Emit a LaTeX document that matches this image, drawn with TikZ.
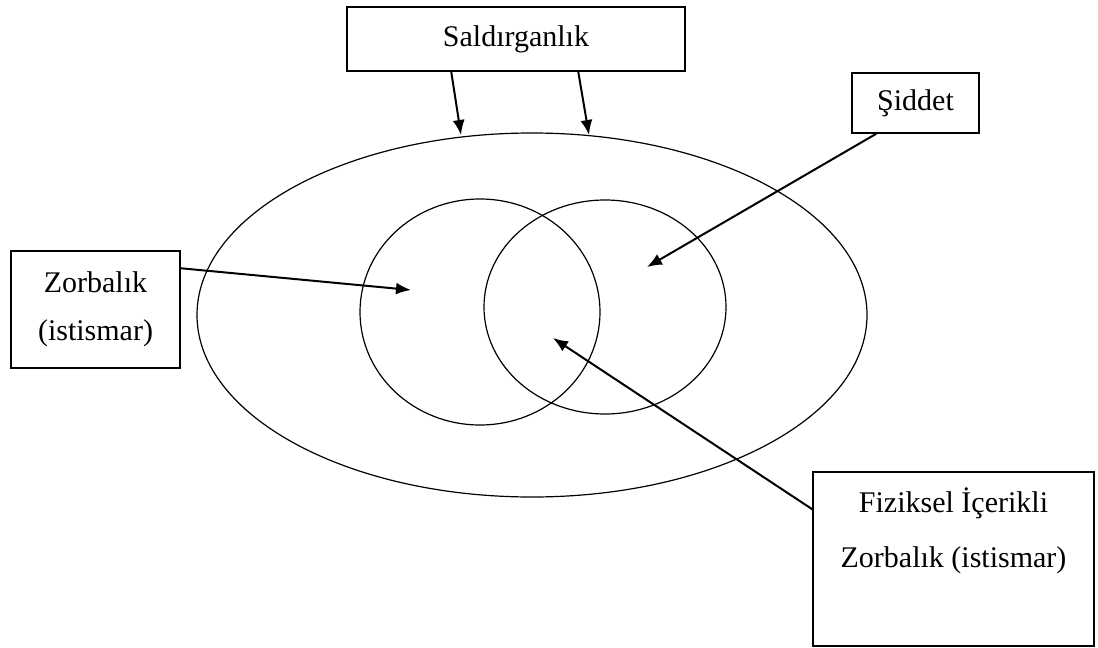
\documentclass[tikz,border=0pt]{standalone}
\usepackage{fontspec}
\setmainfont{Liberation Serif}
\usetikzlibrary{arrows.meta,positioning}
\begin{document}
\begin{tikzpicture}[x=0.5pt,y=-0.5pt]
		\tikzset{kutu/.style = {shape=rectangle,draw,line width=0.75pt,inner sep=0pt,font=\fontsize{15}{24}\selectfont}}
		\tikzset{ok/.style = {-{Latex[length=7.5pt,width=6pt]},line width=1pt}}
		\tikzset{kume/.style = {line width=0.6pt}}
		\useasboundingbox (0,0) rectangle (1098,648);
		% kumeler
		\draw[kume] (532,315) ellipse [x radius=167.5pt, y radius=91pt];
		\draw[kume] (480,312) ellipse [x radius=60pt, y radius=56.5pt];
		\draw[kume] (605,307) ellipse [x radius=60.5pt, y radius=53.5pt];
		% kutular
		\node[kutu, minimum width=169pt, minimum height=32pt] (saldirganlik) at (516,39) {Saldırganlık};
		\node[kutu, minimum width=63.5pt, minimum height=30pt] (siddet) at (915.5,103) {Şiddet};
		\node[kutu, minimum width=84.5pt, minimum height=58.5pt, align=center] (zorbalik) at (95.5,309.5) {Zorbalık\\(istismar)};
		\node[kutu, minimum width=140.5pt, minimum height=87pt] (fiziksel) at (953.5,559) {};
		\node[align=center, below=4.5pt of fiziksel.north, font=\fontsize{15}{27.5}\selectfont] (fizikselyazi) {Fiziksel İçerikli\\Zorbalık (istismar)};
		% ok uclari
		\coordinate (ust1) at (461,135);
		\coordinate (ust2) at (589,135);
		\coordinate (sag) at (647,267);
		\coordinate (sol) at (411,290);
		\coordinate (kesisim) at (553,338);
		\path[ok] ([xshift=52.5pt]saldirganlik.south west) edge (ust1);
		\path[ok] ([xshift=116pt]saldirganlik.south west) edge (ust2);
		\path[ok] ([xshift=12.5pt]siddet.south west) edge (sag);
		\path[ok] ([yshift=-9pt]zorbalik.north east) edge (sol);
		\path[ok] ([yshift=-19pt]fiziksel.north west) edge (kesisim);
	\end{tikzpicture}
\end{document}
